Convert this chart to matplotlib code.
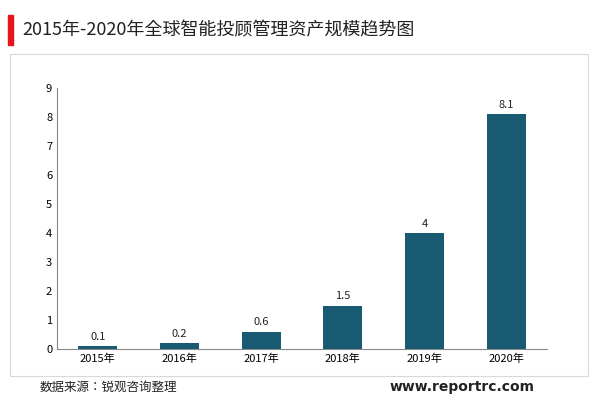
import matplotlib
matplotlib.use("Agg")
import matplotlib.pyplot as plt
from matplotlib.patches import Rectangle
from matplotlib import font_manager

names = {f.name for f in font_manager.fontManager.ttflist}
cjk = [n for n in ["Noto Sans CJK SC", "Noto Sans CJK JP", "Noto Sans CJK TC", "Noto Sans CJK KR"] if n in names]
plt.rcParams["font.family"] = "sans-serif"
plt.rcParams["font.sans-serif"] = cjk + ["DejaVu Sans"]

YEARS = ["2015年", "2016年", "2017年", "2018年", "2019年", "2020年"]
VALUES = [0.1, 0.2, 0.6, 1.5, 4, 8.1]
LABELS = ["0.1", "0.2", "0.6", "1.5", "4", "8.1"]
TITLE = "2015年-2020年全球智能投顾管理资产规模趋势图"
SOURCE = "数据来源：锐观咨询整理"
SITE = "www.reportrc.com"

W, H = 600, 416
fig = plt.figure(figsize=(6, 4.16), dpi=100)

# title with red marker
fig.patches.append(Rectangle((8 / W, 1 - 45 / H), 5 / W, 30 / H, transform=fig.transFigure,
                             color="#e8141b", zorder=3))
fig.text(22 / W, 1 - 30 / H, TITLE, fontsize=13, va="center", ha="left", color="#222222")

# light frame around chart
fig.patches.append(Rectangle((10 / W, 1 - 376 / H), 578 / W, 322 / H, transform=fig.transFigure,
                             fill=False, edgecolor="#d9d9d9", linewidth=0.8))

ax = fig.add_axes([57 / W, 1 - 349 / H, 490 / W, 261 / H])
x = range(len(YEARS))
ax.bar(x, VALUES, width=0.48, color="#175a72")
for xi, v, lab in zip(x, VALUES, LABELS):
    ax.text(xi, v + 0.15, lab, ha="center", va="bottom", fontsize=8, color="#222222")
ax.set_xticks(list(x))
ax.set_xticklabels(YEARS, fontsize=8)
ax.set_ylim(0, 9)
ax.set_yticks(range(10))
ax.tick_params(axis="y", labelsize=8, length=0)
ax.tick_params(axis="x", length=0)
ax.set_xlim(-0.5, 5.5)
for s in ["top", "right"]:
    ax.spines[s].set_visible(False)
ax.spines["left"].set_color("#888888")
ax.spines["bottom"].set_color("#888888")

fig.text(40 / W, 1 - 387 / H, SOURCE, fontsize=9, va="center", ha="left", color="#222222")
fig.text(535 / W, 1 - 387 / H, SITE, fontsize=10, va="center", ha="right",
         fontweight="bold", color="#222222", family="DejaVu Sans")

fig.savefig("out.png", dpi=100)
